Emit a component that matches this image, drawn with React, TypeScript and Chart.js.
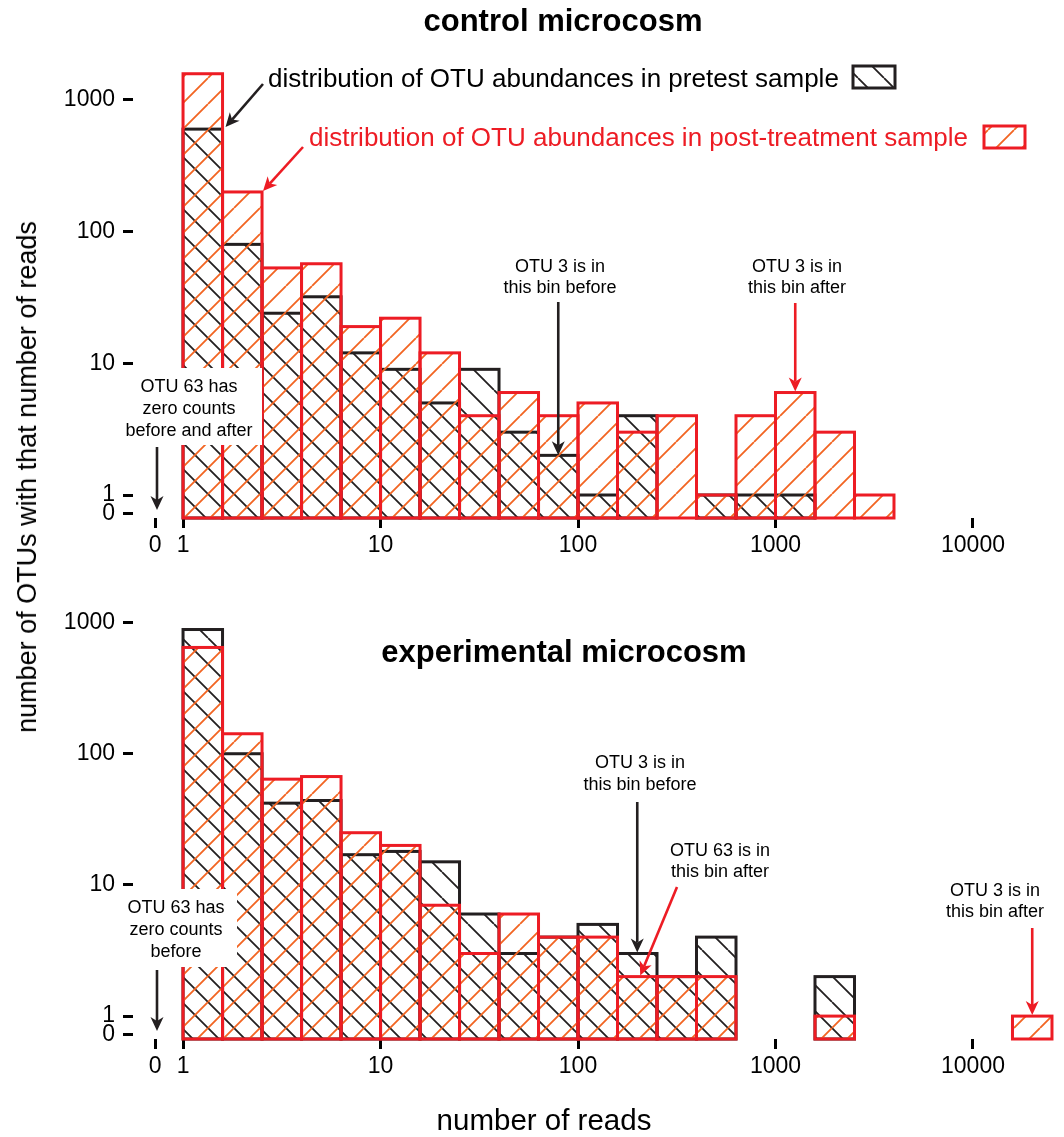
import React, { useEffect, useRef } from 'react';
import { Chart, registerables } from 'chart.js';

Chart.register(...registerables);

const FONT = '"Liberation Sans", Arial, Helvetica, sans-serif';
const RED = '#ed1c24';
const ORANGE = '#f26522';
const BLACK = '#231f20';

// lower edges of the logarithmic read-count bins (5 bins per decade)
const binEdges = [1, 1.585, 2.512, 3.981, 6.31, 10, 15.85, 25.12, 39.81, 63.1, 100, 158.5, 251.2, 398.1, 631, 1000, 1585, 2512, 3981, 6310, 10000, 15849, 25119];

// number of OTUs in each bin
const controlPretest = [600, 80, 24, 32, 12, 9, 5, 9, 3, 2, 1, 4, 0, 1, 1, 1, 0, 0];
const controlPost = [1580, 200, 53, 57, 19, 22, 12, 4, 6, 4, 5, 3, 4, 1, 4, 6, 3, 1];
const experimentalPretest = [885, 100, 42, 44, 17, 18, 15, 6, 3, 4, 5, 3, 2, 4, 0, 0, 2, 0, 0, 0, 0, 0];
const experimentalPost = [646, 142, 64, 67, 25, 20, 7, 3, 6, 4, 4, 2, 2, 2, 0, 0, 1, 0, 0, 0, 0, 1];

// axis ticks ("0" is shown on a broken-axis position below 1)
const xTickValues = [0.7216, 1, 10, 100, 1000, 10000];
const xTickLabels = ['0', '1', '10', '100', '1000', '10000'];
const yTickValues = [0.72, 1, 10, 100, 1000];
const yTickLabels = ['0', '1', '10', '100', '1000'];

const binCenter = (k: number) => Math.sqrt(binEdges[k] * binEdges[k + 1]);
const points = (counts: number[]) => counts.map((c, k) => ({ x: binCenter(k), y: c > 0 ? c : null }));

function makeHatch(color: string, forward: boolean): CanvasPattern {
  const s = 26;
  const c = document.createElement('canvas');
  c.width = s;
  c.height = s;
  const g = c.getContext('2d')!;
  g.strokeStyle = color;
  g.lineWidth = 1.8;
  g.beginPath();
  for (const o of [-s, 0, s]) {
    if (forward) {
      g.moveTo(o, s);
      g.lineTo(o + s, 0);
    } else {
      g.moveTo(o, 0);
      g.lineTo(o + s, s);
    }
  }
  g.stroke();
  return g.createPattern(c, 'repeat')!;
}

function txt(ctx: CanvasRenderingContext2D, s: string, x: number, y: number, size: number, color: string, bold = false, align: CanvasTextAlign = 'center') {
  ctx.font = `${bold ? 'bold ' : ''}${size}px ${FONT}`;
  ctx.fillStyle = color;
  ctx.textAlign = align;
  ctx.textBaseline = 'alphabetic';
  ctx.fillText(s, x, y);
}

function arrow(ctx: CanvasRenderingContext2D, x1: number, y1: number, x2: number, y2: number, color: string) {
  const L = 14, W = 6.5, N = 10;
  const a = Math.atan2(y2 - y1, x2 - x1);
  const c = Math.cos(a), s = Math.sin(a);
  ctx.strokeStyle = color;
  ctx.fillStyle = color;
  ctx.lineWidth = 2.6;
  ctx.beginPath();
  ctx.moveTo(x1, y1);
  ctx.lineTo(x2 - N * c, y2 - N * s);
  ctx.stroke();
  ctx.beginPath();
  ctx.moveTo(x2, y2);
  ctx.lineTo(x2 - L * c - W * s, y2 - L * s + W * c);
  ctx.lineTo(x2 - N * c, y2 - N * s);
  ctx.lineTo(x2 - L * c + W * s, y2 - L * s - W * c);
  ctx.closePath();
  ctx.fill();
}

function note(ctx: CanvasRenderingContext2D, lines: string[], cx: number, baselines: number[]) {
  lines.forEach((l, i) => txt(ctx, l, cx, baselines[i], 18, '#000'));
}

function whiteBox(ctx: CanvasRenderingContext2D, x: number, y: number, w: number, h: number) {
  ctx.fillStyle = '#fff';
  ctx.fillRect(x, y, w, h);
}

const outlinePlugin = {
  id: 'binOutline',
  afterDatasetDraw(chart: any, args: any) {
    const ds = chart.data.datasets[args.index];
    const ctx: CanvasRenderingContext2D = chart.ctx;
    ctx.save();
    ctx.strokeStyle = ds.borderColor;
    ctx.lineWidth = 3;
    args.meta.data.forEach((el: any, i: number) => {
      const d = ds.data[i];
      if (!d || d.y === null || d.y === undefined) return;
      const { x, y, base, width } = el.getProps(['x', 'y', 'base', 'width'], true);
      ctx.strokeRect(x - width / 2, y, width, base - y);
    });
    ctx.restore();
  },
};

function buildChart(
  canvas: HTMLCanvasElement,
  pre: number[],
  post: number[],
  yMax: number,
  padTop: number,
  xHeight: number,
  hatchBlack: CanvasPattern,
  hatchOrange: CanvasPattern,
  draw: (chart: any) => void,
) {
  const tickFont = { family: FONT, size: 23 };
  const barOpts = { stack: 'bins', barThickness: 'flex', categoryPercentage: 1, barPercentage: 1, borderWidth: 0 };
  return new Chart(canvas, {
    type: 'bar',
    data: {
      datasets: [
        { label: 'post-treatment sample', data: points(post), backgroundColor: hatchOrange, borderColor: RED, order: 1, ...barOpts } as any,
        { label: 'pretest sample', data: points(pre), backgroundColor: hatchBlack, borderColor: BLACK, order: 2, ...barOpts } as any,
      ],
    },
    options: {
      animation: false,
      responsive: false,
      events: [],
      layout: { padding: { top: padTop, right: 9, left: 0, bottom: 0 } },
      plugins: { legend: { display: false }, tooltip: { enabled: false }, title: { display: false } },
      scales: {
        x: {
          type: 'logarithmic',
          offset: false,
          min: 0.558,
          max: 26020,
          afterBuildTicks: (s: any) => {
            s.ticks = xTickValues.map((v) => ({ value: v }));
          },
          afterFit: (s: any) => {
            s.height = xHeight;
          },
          ticks: { autoSkip: false, maxRotation: 0, font: tickFont, color: '#000', padding: 4, callback: (_v: any, i: number) => xTickLabels[i] },
          grid: { offset: false, drawOnChartArea: false, drawTicks: true, tickLength: 10, tickWidth: 3, tickColor: '#000' },
          border: { display: false },
        },
        y: {
          type: 'logarithmic',
          stacked: false,
          min: 0.669,
          max: yMax,
          afterBuildTicks: (s: any) => {
            s.ticks = yTickValues.map((v) => ({ value: v }));
          },
          afterFit: (s: any) => {
            s.width = 133;
          },
          ticks: { autoSkip: false, font: tickFont, color: '#000', padding: 8, callback: (_v: any, i: number) => yTickLabels[i] },
          grid: { offset: false, drawOnChartArea: false, drawTicks: true, tickLength: 10, tickWidth: 3, tickColor: '#000' },
          border: { display: false },
        },
      },
    } as any,
    plugins: [outlinePlugin, { id: 'notes', afterDraw: (c: any) => draw(c) }],
  });
}

export default function App() {
  const ref1 = useRef<HTMLCanvasElement>(null);
  const ref2 = useRef<HTMLCanvasElement>(null);

  useEffect(() => {
    const hatchBlack = makeHatch(BLACK, false);
    const hatchOrange = makeHatch(ORANGE, true);

    const swatch = (ctx: CanvasRenderingContext2D, x: number, y: number, w: number, h: number, p: CanvasPattern, stroke: string) => {
      ctx.fillStyle = p;
      ctx.fillRect(x, y, w, h);
      ctx.strokeStyle = stroke;
      ctx.lineWidth = 3;
      ctx.strokeRect(x, y, w, h);
    };

    const drawControl = (chart: any) => {
      const ctx: CanvasRenderingContext2D = chart.ctx;
      const xs = chart.scales.x, ys = chart.scales.y;
      ctx.save();
      txt(ctx, 'control microcosm', 563, 31, 31, '#000', true);
      txt(ctx, 'distribution of OTU abundances in pretest sample', 268, 87, 26, '#000', false, 'left');
      swatch(ctx, 853, 66, 42, 22, hatchBlack, BLACK);
      txt(ctx, 'distribution of OTU abundances in post-treatment sample', 309, 146, 26, RED, false, 'left');
      swatch(ctx, 984, 126, 41, 22, hatchOrange, RED);
      arrow(ctx, 263, 84, xs.getPixelForValue(binEdges[1]) + 3, ys.getPixelForValue(controlPretest[0]) - 2, BLACK);
      arrow(ctx, 303, 147, xs.getPixelForValue(binEdges[2]) + 1, ys.getPixelForValue(controlPost[1]) - 1, RED);

      note(ctx, ['OTU 3 is in', 'this bin before'], 560, [272, 293]);
      arrow(ctx, xs.getPixelForValue(binCenter(9)), 302, xs.getPixelForValue(binCenter(9)), ys.getPixelForValue(controlPretest[9]), BLACK);
      note(ctx, ['OTU 3 is in', 'this bin after'], 797, [272, 293]);
      arrow(ctx, xs.getPixelForValue(binCenter(15)), 303, xs.getPixelForValue(binCenter(15)), ys.getPixelForValue(controlPost[15]) - 1, RED);

      whiteBox(ctx, 120, 368, 142, 77);
      note(ctx, ['OTU 63 has', 'zero counts', 'before and after'], 189, [392, 414, 436]);
      arrow(ctx, 157, 447, 157, chart.chartArea.bottom - 8, BLACK);
      ctx.restore();
    };

    const drawExperimental = (chart: any) => {
      const ctx: CanvasRenderingContext2D = chart.ctx;
      const xs = chart.scales.x, ys = chart.scales.y;
      ctx.save();
      txt(ctx, 'experimental microcosm', 564, 102, 31, '#000', true);

      note(ctx, ['OTU 3 is in', 'this bin before'], 640, [208, 230]);
      arrow(ctx, xs.getPixelForValue(binCenter(11)), 242, xs.getPixelForValue(binCenter(11)), ys.getPixelForValue(experimentalPretest[11]) - 1, BLACK);
      note(ctx, ['OTU 63 is in', 'this bin after'], 720, [296, 317]);
      arrow(ctx, 677, 327, xs.getPixelForValue(binCenter(11)) + 3, ys.getPixelForValue(experimentalPost[11]) - 1, RED);
      note(ctx, ['OTU 3 is in', 'this bin after'], 995, [336, 357]);
      arrow(ctx, xs.getPixelForValue(binCenter(21)), 368, xs.getPixelForValue(binCenter(21)), ys.getPixelForValue(experimentalPost[21]) - 1, RED);

      whiteBox(ctx, 120, 329, 117, 78);
      note(ctx, ['OTU 63 has', 'zero counts', 'before'], 176, [353, 375, 397]);
      arrow(ctx, 157, 410, 157, chart.chartArea.bottom - 8, BLACK);

      txt(ctx, 'number of reads', 544, 570, 29.5, '#000');
      ctx.restore();
    };

    const c1 = buildChart(ref1.current!, controlPretest, controlPost, 2009, 60, 42, hatchBlack, hatchOrange, drawControl);
    const c2 = buildChart(ref2.current!, experimentalPretest, experimentalPost, 2045, 20, 98, hatchBlack, hatchOrange, drawExperimental);
    return () => {
      c1.destroy();
      c2.destroy();
    };
  }, []);

  return (
    <div style={{ position: 'absolute', left: 0, top: 0, width: 1064, height: 1137, background: '#fff', overflow: 'hidden' }}>
      <canvas ref={ref1} width={1064} height={560} style={{ position: 'absolute', left: 0, top: 0 }} />
      <canvas ref={ref2} width={1064} height={577} style={{ position: 'absolute', left: 0, top: 560 }} />
      <div
        style={{
          position: 'absolute',
          left: 27,
          top: 477,
          transform: 'translate(-50%, -50%) rotate(-90deg)',
          whiteSpace: 'nowrap',
          fontFamily: FONT,
          fontSize: 27,
          lineHeight: '30px',
          color: '#000',
        }}
      >
        number of OTUs with that number of reads
      </div>
    </div>
  );
}
